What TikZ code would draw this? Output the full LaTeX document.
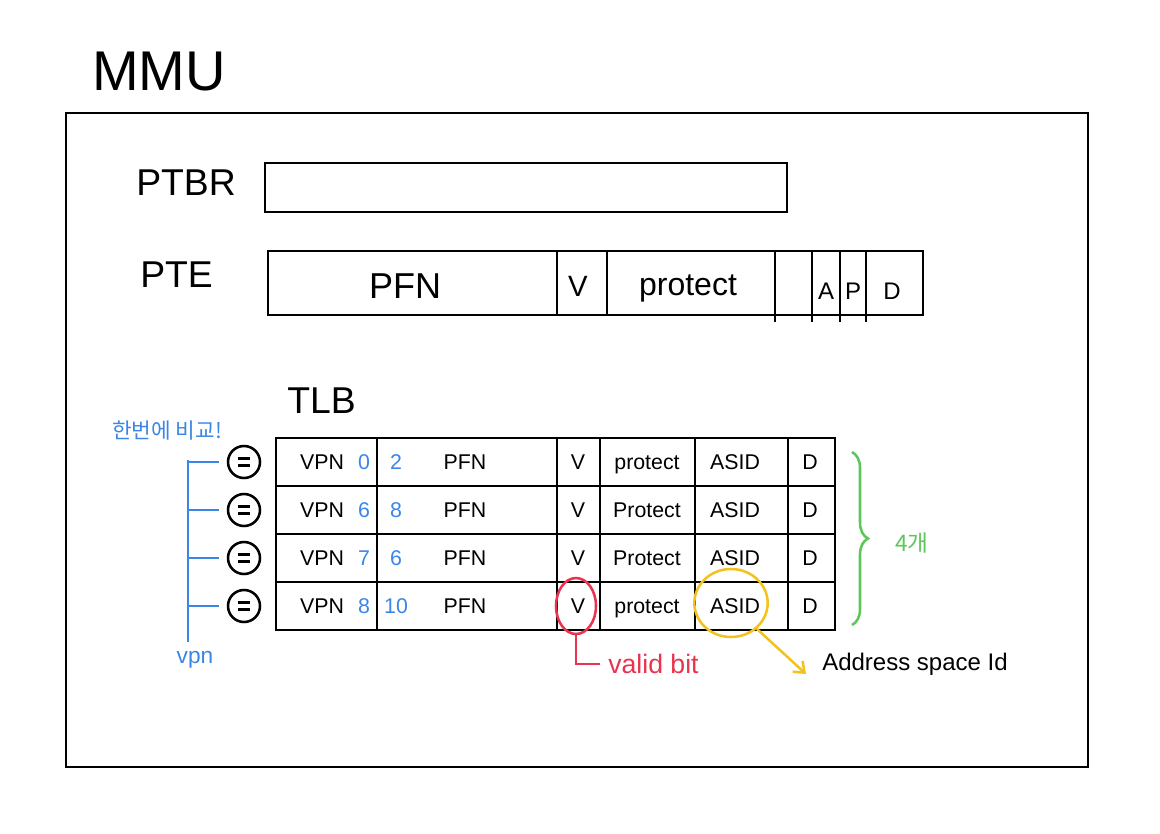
\documentclass[tikz,border=0pt]{standalone}
\usepackage{fontspec}
\usepackage{tikz}
\usepackage{xcolor}
\setmainfont{Liberation Sans}
\newfontfamily\krfont{Noto Sans CJK KR}
\usetikzlibrary{arrows.meta,calc,positioning,shapes.geometric,decorations.pathreplacing}
\newcommand\pensize[1]{\fontsize{#1}{#1}\selectfont}
\definecolor{PenBlue}{HTML}{3A86E6}
\definecolor{PenRed}{HTML}{E8344E}
\definecolor{PenYellow}{HTML}{F4C21F}
\definecolor{PenGreen}{HTML}{5DC65A}
\tikzset{
  mmuframe/.style={draw=black, line width=1.9pt},
  mmulabel/.style={anchor=west, inner sep=0pt, font=\pensize{28}},
  ptetext/.style={anchor=base, inner sep=0pt, font=\pensize{22}},
  celltext/.style={inner sep=0pt, text height=11.5pt, text depth=0pt, font=\pensize{16}},
  cellnum/.style={celltext, text=PenBlue},
  eqcircle/.style={draw=black, circle, line width=1.9pt, minimum size=24pt, inner sep=0pt,
    path picture={\draw[line width=1.6pt] ($(path picture bounding box.center)+(-4.5pt,2.6pt)$) -- ++(9pt,0pt)
      ($(path picture bounding box.center)+(-4.5pt,-2.6pt)$) -- ++(9pt,0pt);}},
  vpnline/.style={draw=PenBlue, line width=1.9pt},
  bluenote/.style={text=PenBlue, inner sep=0pt, font=\pensize{17}},
  redring/.style={draw=PenRed, ellipse, line width=1.9pt, minimum width=30pt, minimum height=42pt},
  redline/.style={draw=PenRed, line width=1.9pt},
  yellowring/.style={draw=PenYellow, ellipse, line width=1.9pt, minimum width=55pt, minimum height=51pt},
  yellowarrow/.style={-{Straight Barb[length=7pt,width=11pt]}, draw=PenYellow, line width=1.9pt},
  greenbrace/.style={draw=PenGreen, line width=1.9pt, decorate, decoration={brace, amplitude=12pt}}
}
\begin{document}
\begin{tikzpicture}[x=0.75pt, y=-0.75pt]
  \useasboundingbox (0,0) rectangle (1160,833);
  % MMU frame
  \node[mmulabel, font=\pensize{42}] (mmu) at (92,72) {MMU};
  \draw[mmuframe] (66,113) rectangle (1088,767);
  % PTBR
  \node[mmulabel] (ptbrlabel) at (136,183) {PTBR};
  \draw[mmuframe] (265,163) rectangle (787,212);
  % PTE
  \node[mmulabel] (ptelabel) at (140,275) {PTE};
  \draw[mmuframe] (268,251) rectangle (923,315);
  \foreach \x in {557,607} \draw[mmuframe] (\x,251) -- (\x,315);
  \foreach \x in {775,812,840,866} \draw[mmuframe] (\x,251) -- (\x,322);
  \node[ptetext, font=\pensize{27}] (ptepfn) at (405,298) {PFN};
  \node[ptetext] (ptev) at (578,296) {V};
  \node[ptetext, font=\pensize{24}] (pteprot) at (688,295) {protect};
  \node[ptetext, font=\pensize{18}] (ptea) at (826,299) {A};
  \node[ptetext, font=\pensize{18}] (ptep) at (853,299) {P};
  \node[ptetext, font=\pensize{18}] (pted) at (892,299) {D};
  % TLB
  \node[mmulabel] (tlblabel) at (287,401) {TLB};
  \draw[mmuframe] (276,438) rectangle (835,630);
  \foreach \y in {486,534,582} \draw[mmuframe] (276,\y) -- (835,\y);
  \foreach \x in {377,557,600,695,788} \draw[mmuframe] (\x,438) -- (\x,630);
  \foreach \vpn/\pfn/\prot [count=\r] in {0/2/protect,6/8/Protect,7/6/Protect,8/10/protect} {
    \pgfmathsetmacro\yc{438+48*\r-24}
    \node[celltext] (vpn\r) at (322,\yc) {VPN};
    \node[cellnum] (vpnno\r) at (364,\yc) {\vpn};
    \node[cellnum] (pfnno\r) at (396,\yc) {\pfn};
    \node[celltext] (pfn\r) at (465,\yc) {PFN};
    \node[celltext] (v\r) at (578,\yc) {V};
    \node[celltext] (prot\r) at (647,\yc) {\prot};
    \node[celltext] (asid\r) at (735,\yc) {ASID};
    \node[celltext] (d\r) at (810,\yc) {D};
    \node[eqcircle] (eq\r) at (244,\yc) {};
    \coordinate (tap\r) at (188,\yc);
    \draw[vpnline, shorten >=6pt] (tap\r) -- (eq\r);
  }
  % compare all at once
  \node[bluenote, font=\krfont\pensize{16}] (compare) at (167,431) {한번에 비교!};
  \node[bluenote] (vpnlabel) at (195,660) {vpn};
  \coordinate (vtop) at (188,460);
  \coordinate (vbot) at (188,642);
  \draw[vpnline] (vtop) -- (vbot);
  % valid bit
  \node[redring] (validring) at (576,606) {};
  \node[anchor=west, inner sep=0pt, text=PenRed, font=\pensize{20}] (validlbl) at (608,664) {valid bit};
  \draw[redline, shorten >=6pt] (validring.south) |- (validlbl.west);
  % address space id
  \node[yellowring] (asidring) at (731,603) {};
  \node[anchor=west, inner sep=0pt, font=\pensize{18}] (asidlbl) at (822,664) {Address space Id};
  \coordinate (asidtip) at (806,674);
  \draw[yellowarrow] (asidring.-45) -- (asidtip);
  % four entries
  \coordinate (bracetop) at (852,452);
  \coordinate (bracebot) at (852,625);
  \draw[greenbrace] (bracetop) -- (bracebot);
  \node[anchor=west, inner sep=0pt, text=PenGreen, font=\krfont\pensize{17}] (fourlbl) at (895,543) {4개};
\end{tikzpicture}
\end{document}
